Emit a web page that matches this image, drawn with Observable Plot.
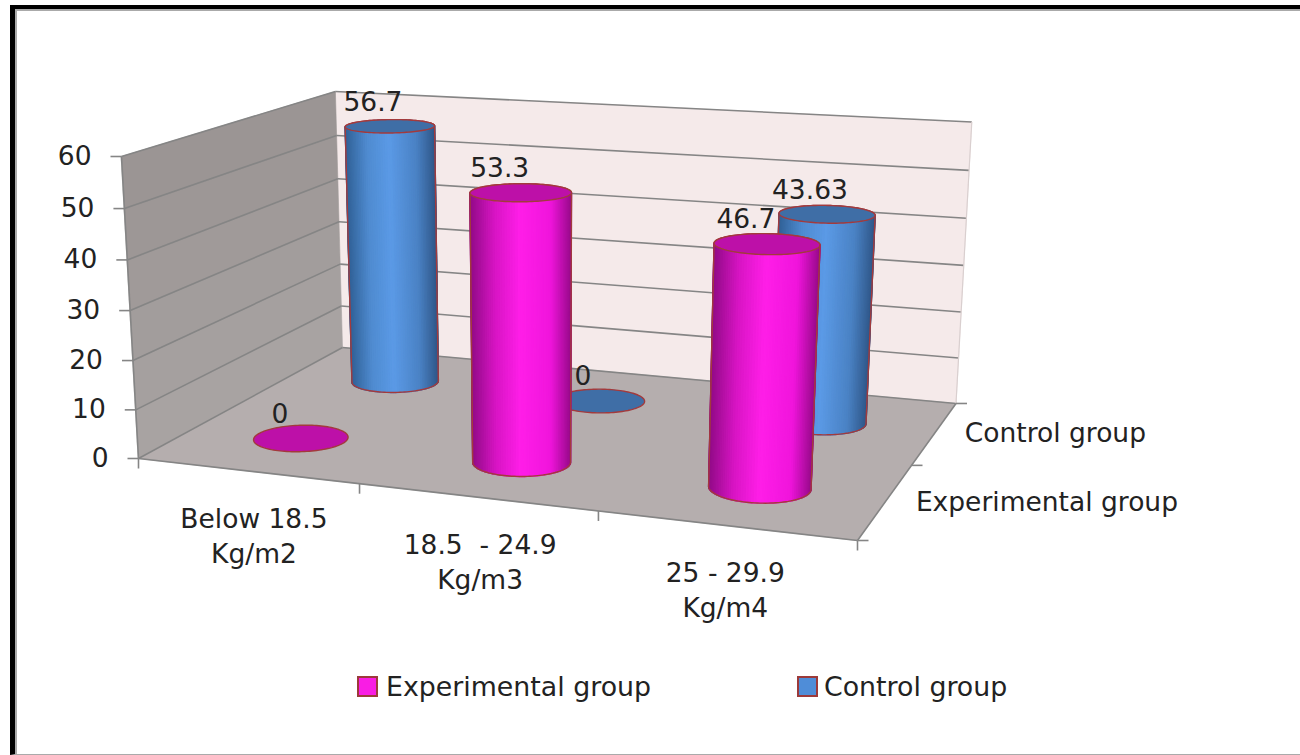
<!DOCTYPE html>
<html>
<head>
<meta charset="utf-8">
<script src="https://cdn.jsdelivr.net/npm/d3@7"></script>
<script src="https://cdn.jsdelivr.net/npm/@observablehq/plot@0.6"></script>
<style>
  html, body { margin: 0; padding: 0; background: #fff; }
  #page { position: relative; width: 1300px; height: 755px; overflow: hidden; font-family: "DejaVu Sans", sans-serif; color: #222; }
  #frame { position: absolute; left: 10px; top: 5px; width: 1290px; height: 750px; box-sizing: border-box;
           border-left: 5px solid #000; border-top: 4.5px solid #000; border-bottom: 1.5px solid #aaa;
           box-shadow: inset 2px 2px 0 #aaa; pointer-events: none; }
  #chart { position: absolute; left: 0; top: 0; }
  #chart svg { display: block; background: transparent; }
  #legend { position: absolute; left: 0; top: 665px; width: 1300px; height: 44px; font-size: 26.8px; line-height: 44px; }
  .key { position: absolute; top: 0; white-space: nowrap; }
  .swatch { position: absolute; top: 11px; width: 17px; height: 17px; border: 2px solid #9c3a3a; }
  .key span.name { position: absolute; top: 0; }
</style>
</head>
<body>
<div id="page">
  <div id="chart"></div>
  <div id="legend"></div>
  <div id="frame"></div>
</div>
<script>
// Chart values
const categories = ["Below 18.5\nKg/m2", "18.5  - 24.9\nKg/m3", "25 - 29.9\nKg/m4"];
const seriesNames = ["Experimental group", "Control group"];
const experimental = [0, 53.3, 46.7];
const control = [56.7, 0, 43.63];
const valueLabels = [["0", "53.3", "46.7"], ["56.7", "0", "43.63"]];
const valueTicks = [0, 10, 20, 30, 40, 50, 60];
const valueMax = 60;

// Cylinder colours: cap, then shading across the side from left to right
const shadeStops = [0, 0.25, 0.5, 0.8, 1];
const palette = [
  { cap: "#bd10a8", swatch: "#f91de4", side: ["#8f0a85", "#d815c4", "#ff1ee8", "#f015dc", "#9a0a8c"] },
  { cap: "#3f6ea6", swatch: "#4f8dd8", side: ["#2f5f94", "#4f8bd0", "#5b9ae6", "#4a82c4", "#30588a"] }
];
const edge = "#a33a3c";

// Perspective camera of the box: front-left floor corner, the three edges leaving
// it, and the homogeneous weight change along each of them.
const origin = [138, 458], alongCategory = [857, 540], alongDepth = [342, 347], alongValue = [121, 156];
const wx = -0.1123, wy = 0.19, wz = -0.04;

function project(u, v, h) {
  const w = 1 + wx * u + wy * v + wz * h;
  const coord = i =>
    (origin[i] * (1 - u - v - h)
      + u * (1 + wx) * alongCategory[i]
      + v * (1 + wy) * alongDepth[i]
      + h * (1 + wz) * alongValue[i]) / w;
  return [coord(0), coord(1)];
}
const at = (cat, depth, value) => project(cat / categories.length, depth / seriesNames.length, value / valueMax);

// All polygons are gathered as rows and drawn by closed line marks
const polygons = [];
function addPolygon(points, fill, stroke, strokeWidth) {
  const id = polygons.length ? polygons[polygons.length - 1].id + 1 : 0;
  for (const [x, y] of points) polygons.push({ id, x, y, fill, stroke, strokeWidth });
}

// Walls and floor
const wallBands = ["#9b9594", "#9d9796", "#a09a99", "#a29d9c", "#a5a09f", "#a8a3a2"];
const wallBack = "#f5eaea", floorFill = "#b5aeae", gridColor = "#858585";
addPolygon([at(0, 2, 0), at(3, 2, 0), at(3, 2, 60), at(0, 2, 60)], wallBack, wallBack, 1);
valueTicks.slice(0, -1).forEach((t, i) => {
  const top = valueTicks[i + 1];
  const c = wallBands[wallBands.length - 1 - i];
  addPolygon([at(0, 0, t), at(0, 2, t), at(0, 2, top), at(0, 0, top)], c, c, 0.6);
});
addPolygon([at(0, 0, 0), at(3, 0, 0), at(3, 2, 0), at(0, 2, 0)], floorFill, floorFill, 0.6);
const sceneryCount = polygons[polygons.length - 1].id + 1;

// Cylinders, rear series first
const radiusCat = 0.2, radiusDepth = 0.2, steps = 120;
const values = [experimental, control];
function ring(cat, depth, value) {
  return d3.range(steps).map(i => {
    const a = (i / steps) * 2 * Math.PI;
    return at(cat + radiusCat * Math.cos(a), depth + radiusDepth * Math.sin(a), value);
  });
}
function addCylinder(cat, depth, value, look) {
  const top = ring(cat, depth, value);
  if (value > 0) {
    const bottom = ring(cat, depth, 0);
    const hull = d3.polygonHull(top.concat(bottom));
    addPolygon(hull, look.side[2], look.side[2], 0.6);
    const xs = bottom.map(p => p[0]);
    const left = d3.minIndex(xs), right = d3.maxIndex(xs);
    const xMin = xs[left], xMax = xs[right];
    const shade = d3.scaleLinear().domain(shadeStops).range(look.side).clamp(true);
    // Walk the nearer half of the base, which is the one lower on the page
    const forward = [], backward = [];
    for (let i = left; i !== right; i = (i + 1) % steps) forward.push(i);
    forward.push(right);
    for (let i = left; i !== right; i = (i - 1 + steps) % steps) backward.push(i);
    backward.push(right);
    const meanY = list => d3.mean(list, i => bottom[i][1]);
    const arc = meanY(forward) > meanY(backward) ? forward : backward;
    d3.pairs(arc).forEach(([a, b]) => {
      const t = ((bottom[a][0] + bottom[b][0]) / 2 - xMin) / (xMax - xMin);
      const c = shade(t);
      addPolygon([bottom[a], bottom[b], top[b], top[a]], c, c, 1.5);
    });
    addPolygon(hull, "none", edge, 1.4);
  }
  addPolygon(top, look.cap, edge, 1.4);
}
[1, 0].forEach(s => {
  categories.forEach((_, c) => addCylinder(c + 0.5, s + 0.5, values[s][c], palette[s]));
});

// Grid and axis lines
const link = (a, b, stroke = gridColor, strokeWidth = 1.6) => ({ a, b, stroke, strokeWidth });
const lines = [];
valueTicks.forEach(t => {
  lines.push(link(at(0, 0, t), at(0, 2, t)));
  lines.push(link(at(0, 2, t), at(3, 2, t)));
  const p = at(0, 0, t);
  lines.push(link(p, [p[0] - 11, p[1]]));
});
lines.push(link(at(0, 0, 0), at(0, 0, 60)));
lines.push(link(at(3, 2, 0), at(3, 2, 60), "#d9cfcf", 1.2));
lines.push(link(at(0, 0, 0), at(3, 0, 0)));
lines.push(link(at(3, 0, 0), at(3, 2, 0)));
d3.range(categories.length + 1).forEach(c => {
  const p = at(c, 0, 0);
  lines.push(link(p, [p[0], p[1] + 10]));
});
d3.range(seriesNames.length + 1).forEach(s => {
  const p = at(3, s, 0);
  lines.push(link(p, [p[0] + 11, p[1]]));
});

// Text rows
const valueTextRows = [];
[1, 0].forEach(s => categories.forEach((_, c) => {
  const p = at(c + 0.5, s + 0.5, values[s][c]);
  valueTextRows.push({ x: p[0] - (s === 0 ? 21 : 17), y: p[1] - 24, text: valueLabels[s][c] });
}));
const catRows = categories.map((text, c) => {
  const p = at(c + 0.5, 0, 0);
  return { x: p[0] + 7 - 3.5 * c, y: p[1] + 63, text };
});
const tickRows = valueTicks.map(t => {
  const p = at(0, 0, t);
  return { x: p[0] - 30, y: p[1], text: String(t) };
});
const depthRows = seriesNames.map((text, s) => {
  const p = at(3, s + 0.5, 0);
  return { x: p[0] + 30, y: p[1] + 1, text };
});

const textStyle = { fill: "#222", fontSize: 26.5, fontFamily: "'DejaVu Sans', sans-serif" };
const polygonOptions = { x: "x", y: "y", z: "id", fill: "fill", stroke: "stroke", strokeWidth: "strokeWidth", curve: "linear-closed" };
const plot = Plot.plot({
  width: 1300,
  height: 660,
  margin: 0,
  x: { domain: [0, 1300], range: [0, 1300], axis: null },
  y: { domain: [0, 660], range: [0, 660], axis: null },
  color: { type: "identity" },
  style: { background: "transparent", overflow: "visible" },
  marks: [
    // walls and floor come first, then their rules, then the cylinders over them
    Plot.line(polygons.filter(d => d.id < sceneryCount), polygonOptions),
    Plot.link(lines, { x1: d => d.a[0], y1: d => d.a[1], x2: d => d.b[0], y2: d => d.b[1], stroke: "stroke", strokeWidth: "strokeWidth" }),
    Plot.line(polygons.filter(d => d.id >= sceneryCount), polygonOptions),
    Plot.text(tickRows, { x: "x", y: "y", text: "text", textAnchor: "end", ...textStyle }),
    Plot.text(catRows, { x: "x", y: "y", text: "text", lineHeight: 1.33, ...textStyle }),
    Plot.text(depthRows, { x: "x", y: "y", text: "text", textAnchor: "start", ...textStyle }),
    Plot.text(valueTextRows, { x: "x", y: "y", text: "text", ...textStyle })
  ]
});
document.getElementById("chart").appendChild(plot);

// Legend under the plot
const legend = document.getElementById("legend");
const legendSlots = [[357, 386], [797, 824]];
seriesNames.forEach((name, s) => {
  const key = document.createElement("div");
  key.className = "key";
  key.innerHTML = `<div class="swatch" style="left:${legendSlots[s][0]}px;background:${palette[s].swatch}"></div>` +
    `<span class="name" style="left:${legendSlots[s][1]}px">${name}</span>`;
  legend.appendChild(key);
});
</script>
</body>
</html>
